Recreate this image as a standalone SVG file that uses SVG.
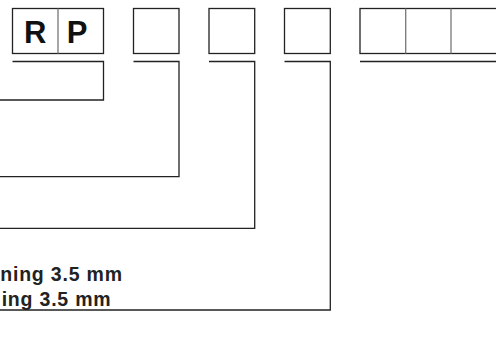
<svg xmlns="http://www.w3.org/2000/svg" width="496" height="362" viewBox="0 0 496 362">
<style>
.box{fill:#fff;stroke:#222;stroke-width:1.3}
.div{stroke:#777;stroke-width:1.3}
.ln{fill:none;stroke:#222;stroke-width:1.3}
.big{font-family:"Liberation Sans",Arial,sans-serif;font-weight:bold;font-size:31px;fill:#111}
.lbl{font-family:"Liberation Sans",Arial,sans-serif;font-weight:bold;font-size:19.5px;fill:#222;letter-spacing:0.8px}
</style>
<rect width="496" height="362" fill="#fff"/>
<g id="node-rp">
<rect class="box" x="12.5" y="8.5" width="91" height="45"/>
<line class="div" x1="58" y1="8.5" x2="58" y2="53.5"/>
<text class="big" x="35.3" y="42.7" text-anchor="middle">R</text>
<text class="big" x="77" y="42.7" text-anchor="middle">P</text>
</g>
<g id="node-2"><rect class="box" x="133.5" y="8.5" width="45.5" height="45"/></g>
<g id="node-3"><rect class="box" x="209" y="8.5" width="45.7" height="45"/></g>
<g id="node-4"><rect class="box" x="284.5" y="8.5" width="45.8" height="45"/></g>
<g id="node-5">
<rect class="box" x="360" y="8.5" width="137" height="45"/>
<line class="div" x1="405.7" y1="8.5" x2="405.7" y2="53.5"/>
<line class="div" x1="451" y1="8.5" x2="451" y2="53.5"/>
</g>
<g id="connectors">
<polyline class="ln" points="12.5,61.5 103.5,61.5 103.5,100 -2,100"/>
<polyline class="ln" points="133.5,61.5 179,61.5 179,176.7 -2,176.7"/>
<polyline class="ln" points="209,61.5 254.7,61.5 254.7,228.3 -2,228.3"/>
<polyline class="ln" points="284.5,61.5 330.3,61.5 330.3,310 -2,310"/>
<line class="ln" x1="360" y1="61.5" x2="498" y2="61.5"/>
</g>
<g id="labels">
<text class="lbl" x="122.8" y="280.5" text-anchor="end">ning 3.5 mm</text>
<text class="lbl" x="111.5" y="305.5" text-anchor="end">ing 3.5 mm</text>
</g>
</svg>
